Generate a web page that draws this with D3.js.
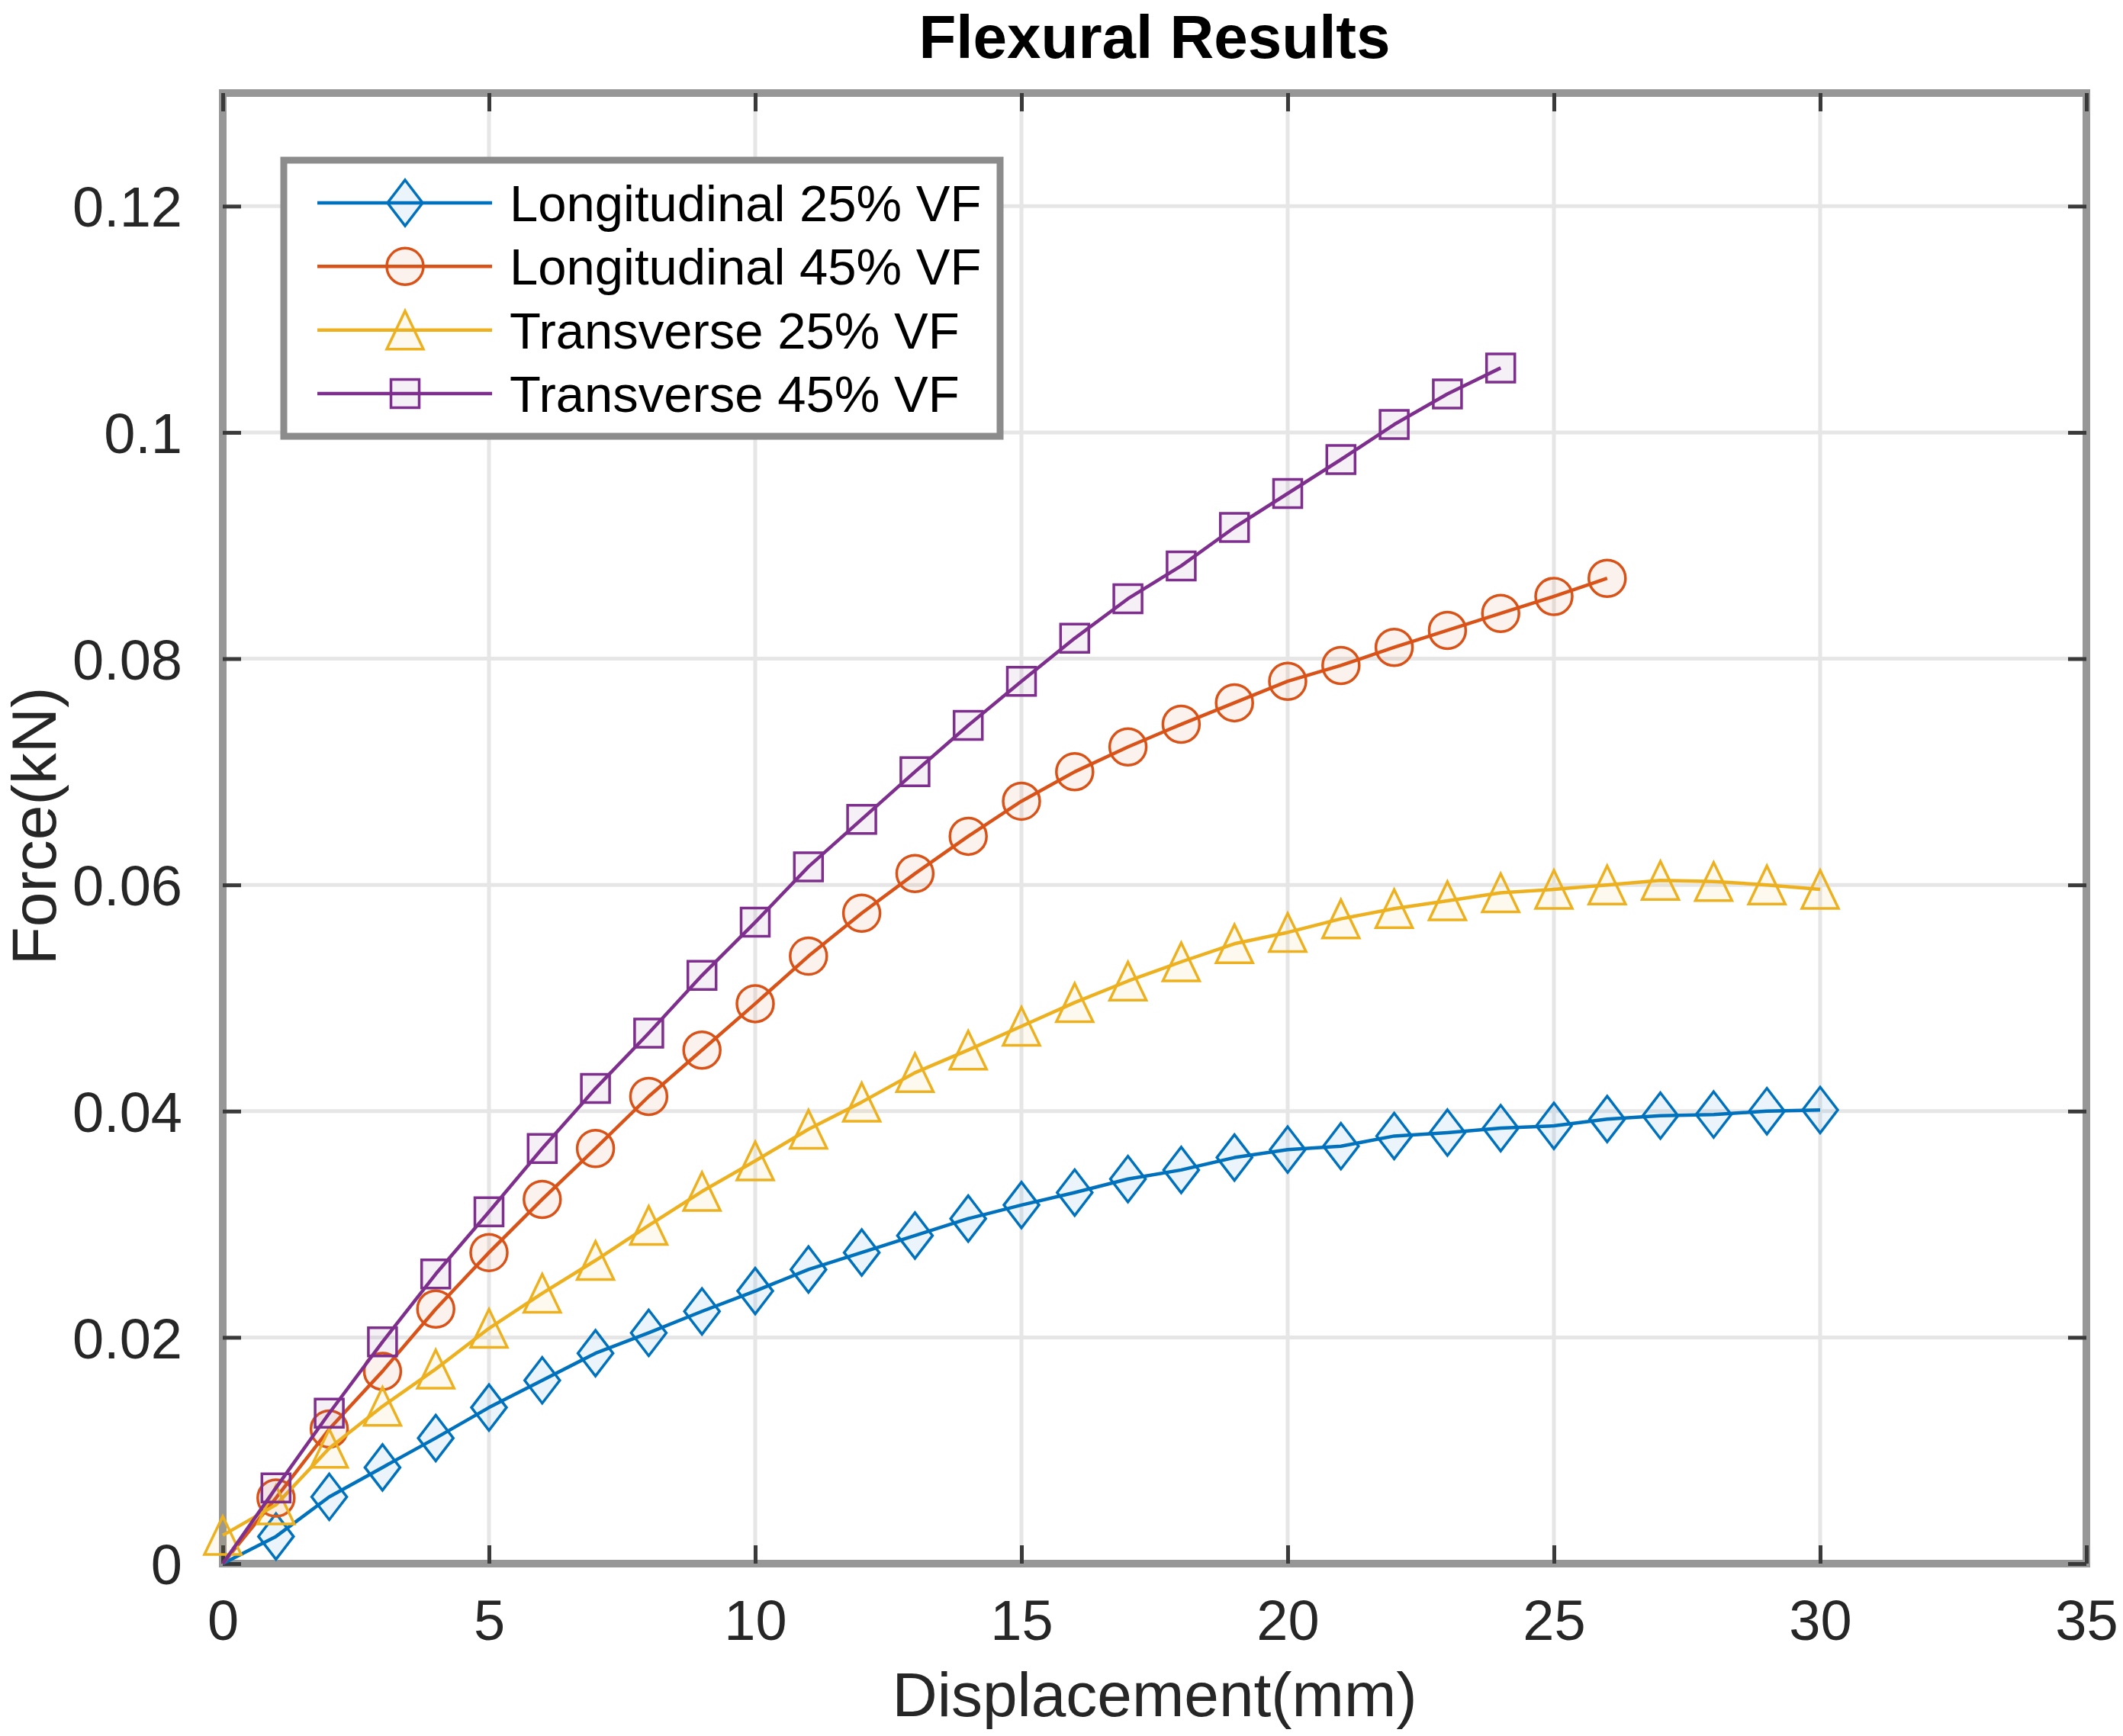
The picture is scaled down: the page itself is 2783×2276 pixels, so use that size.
<!DOCTYPE html>
<html>
<head>
<meta charset="utf-8">
<script src="https://cdn.jsdelivr.net/npm/d3@7"></script>
<style>
  html, body { margin: 0; padding: 0; background: #ffffff; }
  svg { display: block; font-family: "Liberation Sans", Arial, Helvetica, sans-serif; }
</style>
</head>
<body>
<svg id="chart" width="2783" height="2276"></svg>
<script>
// ---------------- data ----------------
const chartTitle = "Flexural Results";
const xLabel = "Displacement(mm)";
const yLabel = "Force(kN)";

const seriesNames = ["Longitudinal 25% VF", "Longitudinal 45% VF", "Transverse 25% VF", "Transverse 45% VF"];

const dispL25 = [0,1,2,3,4,5,6,7,8,9,10,11,12,13,14,15,16,17,18,19,20,21,22,23,24,25,26,27,28,29,30];
const forceL25 = [0, 0.0024, 0.0059, 0.0085, 0.0111, 0.0138, 0.0162, 0.0186, 0.0204, 0.0223, 0.0241,
                  0.0260, 0.0275, 0.0290, 0.0305, 0.0317, 0.0328, 0.0340, 0.0348, 0.0359, 0.0366,
                  0.0369, 0.0378, 0.0381, 0.0385, 0.0387, 0.0393, 0.0396, 0.0397, 0.0400, 0.0401];

const dispL45 = [0,1,2,3,4,5,6,7,8,9,10,11,12,13,14,15,16,17,18,19,20,21,22,23,24,25,26];
const forceL45 = [0, 0.0058, 0.0119, 0.0170, 0.0225, 0.0275, 0.0322, 0.0367, 0.0413, 0.0454, 0.0495,
                  0.0537, 0.0575, 0.0610, 0.0643, 0.0674, 0.0700, 0.0722, 0.0742, 0.0761, 0.0780,
                  0.0794, 0.0810, 0.0825, 0.0840, 0.0855, 0.0871];

const dispT25 = [0,1,2,3,4,5,6,7,8,9,10,11,12,13,14,15,16,17,18,19,20,21,22,23,24,25,26,27,28,29,30];
const forceT25 = [0.0025, 0.0052, 0.0102, 0.0139, 0.0172, 0.0208, 0.0239, 0.0268, 0.0299, 0.0329, 0.0356,
                  0.0384, 0.0408, 0.0434, 0.0454, 0.0475, 0.0496, 0.0515, 0.0532, 0.0548, 0.0558,
                  0.0570, 0.0579, 0.0586, 0.0593, 0.0596, 0.0600, 0.0604, 0.0603, 0.0600, 0.0596];

const dispT45 = [0,1,2,3,4,5,6,7,8,9,10,11,12,13,14,15,16,17,18,19,20,21,22,23,24];
const forceT45 = [0, 0.0067, 0.0133, 0.0196, 0.0256, 0.0311, 0.0367, 0.0420, 0.0469, 0.0520, 0.0567,
                  0.0616, 0.0658, 0.0700, 0.0741, 0.0780, 0.0818, 0.0853, 0.0882, 0.0916, 0.0946,
                  0.0976, 0.1007, 0.1034, 0.1057];

// first sample index that carries a marker (origin points have none in the original)
const firstMarkerIndex = [1, 1, 0, 1];

const xTicks = [0, 5, 10, 15, 20, 25, 30, 35];
const xTickLabels = ["0", "5", "10", "15", "20", "25", "30", "35"];
const yTicks = [0, 0.02, 0.04, 0.06, 0.08, 0.1, 0.12];
const yTickLabels = ["0", "0.02", "0.04", "0.06", "0.08", "0.1", "0.12"];
const xDomain = [0, 35];
const yDomain = [0, 0.13];

// ---------------- styles ----------------
const colors = ["#0072BD", "#D95319", "#EDB120", "#7E2F8E"];
const markerKinds = ["diamond", "circle", "triangle", "square"];

const W = 2783, H = 2276;
const plot = { left: 292, right: 2735, top: 122, bottom: 2050 };

const svg = d3.select("#chart");
svg.append("rect").attr("width", W).attr("height", H).attr("fill", "#ffffff");

const x = d3.scaleLinear().domain(xDomain).range([plot.left, plot.right]);
const y = d3.scaleLinear().domain(yDomain).range([plot.bottom, plot.top]);

// grid
const grid = svg.append("g").attr("stroke", "#e6e6e6").attr("stroke-width", 5);
grid.selectAll("line.gx").data(xTicks.slice(1, -1)).join("line")
  .attr("x1", d => x(d)).attr("x2", d => x(d))
  .attr("y1", plot.top).attr("y2", plot.bottom);
grid.selectAll("line.gy").data(yTicks.slice(1)).join("line")
  .attr("x1", plot.left).attr("x2", plot.right)
  .attr("y1", d => y(d)).attr("y2", d => y(d));

// axis box
svg.append("rect")
  .attr("x", plot.left).attr("y", plot.top)
  .attr("width", plot.right - plot.left).attr("height", plot.bottom - plot.top)
  .attr("fill", "none").attr("stroke", "#979797").attr("stroke-width", 10);

// axes via d3 (inward ticks)
const fontTick = 74;
const tickLen = 24;
const xAxisB = d3.axisBottom(x).tickValues(xTicks).tickFormat((d, i) => xTickLabels[i])
  .tickSizeInner(-tickLen).tickSizeOuter(0).tickPadding(tickLen + 50);
const gxb = svg.append("g").attr("transform", `translate(0,${plot.bottom})`).call(xAxisB);
const xAxisT = d3.axisTop(x).tickValues(xTicks).tickFormat("").tickSizeInner(-tickLen).tickSizeOuter(0);
const gxt = svg.append("g").attr("transform", `translate(0,${plot.top})`).call(xAxisT);
const yAxisL = d3.axisLeft(y).tickValues(yTicks).tickFormat((d, i) => yTickLabels[i])
  .tickSizeInner(-tickLen).tickSizeOuter(0).tickPadding(tickLen + 29);
const gyl = svg.append("g").attr("transform", `translate(${plot.left},0)`).call(yAxisL);
const yAxisR = d3.axisRight(y).tickValues(yTicks).tickFormat("").tickSizeInner(-tickLen).tickSizeOuter(0);
const gyr = svg.append("g").attr("transform", `translate(${plot.right},0)`).call(yAxisR);

[gxb, gxt, gyl, gyr].forEach(g => {
  g.select(".domain").remove();
  g.selectAll(".tick line").attr("stroke", "#3a3a3a").attr("stroke-width", 5);
  g.selectAll(".tick text").attr("fill", "#262626").attr("font-size", fontTick)
    .attr("font-family", "'Liberation Sans', Arial, sans-serif");
});
gxb.selectAll(".tick text").attr("dy", null).attr("y", 100);
gyl.selectAll(".tick text").attr("dy", "0.36em");

// marker shapes
function markerPath(kind) {
  switch (kind) {
    case "diamond": return "M0,-30 L23,0 L0,30 L-23,0 Z";
    case "triangle": return "M0,-25 L24,25 L-24,25 Z";
    case "square": return "M-18.5,-18.5 L18.5,-18.5 L18.5,18.5 L-18.5,18.5 Z";
    case "circle": return "M-24,0 A24,24 0 1,0 24,0 A24,24 0 1,0 -24,0 Z";
  }
}

const seriesData = [
  dispL25.map((d, i) => ({ x: d, y: forceL25[i] })),
  dispL45.map((d, i) => ({ x: d, y: forceL45[i] })),
  dispT25.map((d, i) => ({ x: d, y: forceT25[i] })),
  dispT45.map((d, i) => ({ x: d, y: forceT45[i] }))
];

const line = d3.line().x(d => x(d.x)).y(d => y(d.y));

seriesData.forEach((pts, s) => {
  const g = svg.append("g");
  g.append("path").datum(pts).attr("d", line)
    .attr("fill", "none").attr("stroke", colors[s]).attr("stroke-width", 4.5)
    .attr("stroke-linejoin", "round");
  g.selectAll("path.m").data(pts.slice(firstMarkerIndex[s])).join("path")
    .attr("class", "m")
    .attr("transform", d => `translate(${x(d.x)},${y(d.y)})`)
    .attr("d", markerPath(markerKinds[s]))
    .attr("fill", colors[s]).attr("fill-opacity", 0.08)
    .attr("stroke", colors[s]).attr("stroke-width", 3.5);
});

// title & labels
svg.append("text").attr("x", (plot.left + plot.right) / 2).attr("y", 76)
  .attr("text-anchor", "middle").attr("font-size", 80).attr("font-weight", "bold")
  .attr("fill", "#000").text(chartTitle);
svg.append("text").attr("x", (plot.left + plot.right) / 2).attr("y", 2250)
  .attr("text-anchor", "middle").attr("font-size", 82).attr("fill", "#262626").text(xLabel);
svg.append("text").attr("transform", "translate(73,1083) rotate(-90)")
  .attr("text-anchor", "middle").attr("font-size", 82).attr("fill", "#262626").text(yLabel);

// legend
const leg = { x: 372, y: 210, w: 939, h: 362 };
const lg = svg.append("g");
lg.append("rect").attr("x", leg.x).attr("y", leg.y).attr("width", leg.w).attr("height", leg.h)
  .attr("fill", "#ffffff").attr("stroke", "#8c8c8c").attr("stroke-width", 9);
const rowY = d3.scalePoint().domain(seriesNames).range([266, 516]);
seriesNames.forEach((name, s) => {
  const ry = rowY(name);
  lg.append("line").attr("x1", 416).attr("x2", 645).attr("y1", ry).attr("y2", ry)
    .attr("stroke", colors[s]).attr("stroke-width", 4.5);
  lg.append("path").attr("transform", `translate(531,${ry})`).attr("d", markerPath(markerKinds[s]))
    .attr("fill", colors[s]).attr("fill-opacity", 0.08)
    .attr("stroke", colors[s]).attr("stroke-width", 3.5);
  lg.append("text").attr("x", 668).attr("y", ry).attr("dy", "0.36em")
    .attr("font-size", 67).attr("fill", "#000").text(name);
});
</script>
</body>
</html>
